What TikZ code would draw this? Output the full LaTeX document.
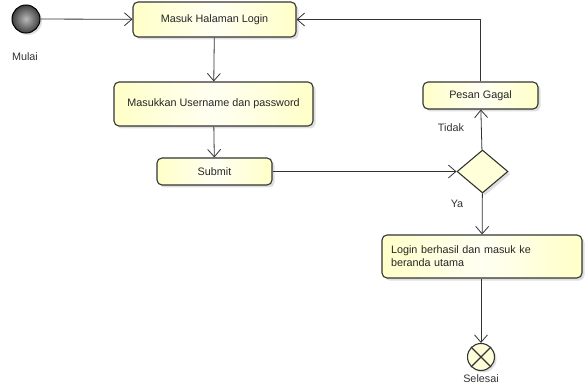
\documentclass[tikz,border=0pt]{standalone}
\usepackage{fontspec}
\setmainfont{Liberation Sans}
\usetikzlibrary{shapes.geometric,arrows.meta,shadows}
\definecolor{lineC}{HTML}{333333}
\definecolor{creamL}{HTML}{FFFFF2}
\definecolor{creamR}{HTML}{FFFFC8}
\tikzset{
  act/.style={draw=lineC, line width=1.1pt, rounded corners=5pt, left color=creamR, right color=creamR, middle color=creamL,
    drop shadow={shadow xshift=2.5pt, shadow yshift=-2.5pt, fill=gray!35, opacity=0.7},
    inner sep=0pt, font=\fontsize{10.8}{13}\selectfont, text=black!85},
  conn/.style={draw=lineC, line width=0.8pt, -{Straight Barb[length=7.5pt,width=13pt,line width=0.8pt]}},
  lbl/.style={font=\fontsize{10.8}{13}\selectfont, text=black!80},
}
\begin{document}
\begin{tikzpicture}[x=1pt,y=-1pt]
\useasboundingbox (0,0) rectangle (587,385);
% start
\node[circle, draw=black, line width=1pt, inner color=gray!55, outer color=black!75, minimum size=28pt, inner sep=0pt,
  drop shadow={shadow xshift=2pt, shadow yshift=-2pt, fill=gray!35, opacity=0.7}] (start) at (26,19) {};
\node[lbl] (mulai) at (25,57) {Mulai};
% actions
\node[act, minimum width=163pt, minimum height=35pt] (login) at (214.5,19.5) {Masuk Halaman Login};
\node[act, minimum width=199pt, minimum height=44pt] (input) at (213.5,104) {Masukkan Username dan password};
\node[act, minimum width=115pt, minimum height=27pt] (submit) at (214.5,171.5) {Submit};
\node[act, minimum width=115pt, minimum height=27pt] (gagal) at (480.5,95.5) {Pesan Gagal};
\node[diamond, draw=lineC, line width=1.1pt, fill=creamR!70, aspect=1.19, minimum width=51pt, minimum height=43pt, inner sep=0pt,
  drop shadow={shadow xshift=2.5pt, shadow yshift=-2.5pt, fill=gray!35, opacity=0.7}] (dec) at (482.5,171.5) {};
\node[act, minimum width=200pt, minimum height=43pt, align=left, text width=182pt] (ok) at (482,256.5)
  {Login berhasil dan masuk ke\\beranda utama};
% end
\node[circle, draw=lineC, line width=1.1pt, fill=creamR!70, minimum size=27pt, inner sep=0pt,
  drop shadow={shadow xshift=2pt, shadow yshift=-2pt, fill=gray!35, opacity=0.7}] (fin) at (481,357) {};
\draw[lineC, line width=1.1pt] (fin.north west) -- (fin.south east) (fin.north east) -- (fin.south west);
\node[lbl] (selesai) at (481,379) {Selesai};
% labels
\node[lbl] (tidak) at (451,128) {Tidak};
\node[lbl] (ya) at (457,204) {Ya};
% connectors
\draw[conn] (start) -- (login);
\draw[conn] (login) -- (input);
\draw[conn] (input) -- (submit);
\draw[conn] (submit) -- (dec);
\draw[conn] (dec) -- (gagal);
\coordinate (corner) at (gagal.north |- login.east);
\draw[conn] (gagal.north) -- (corner) -- (login.east);
\draw[conn] (dec) -- (ok);
\draw[conn] (ok.south -| fin.north) -- (fin);
\end{tikzpicture}
\end{document}
